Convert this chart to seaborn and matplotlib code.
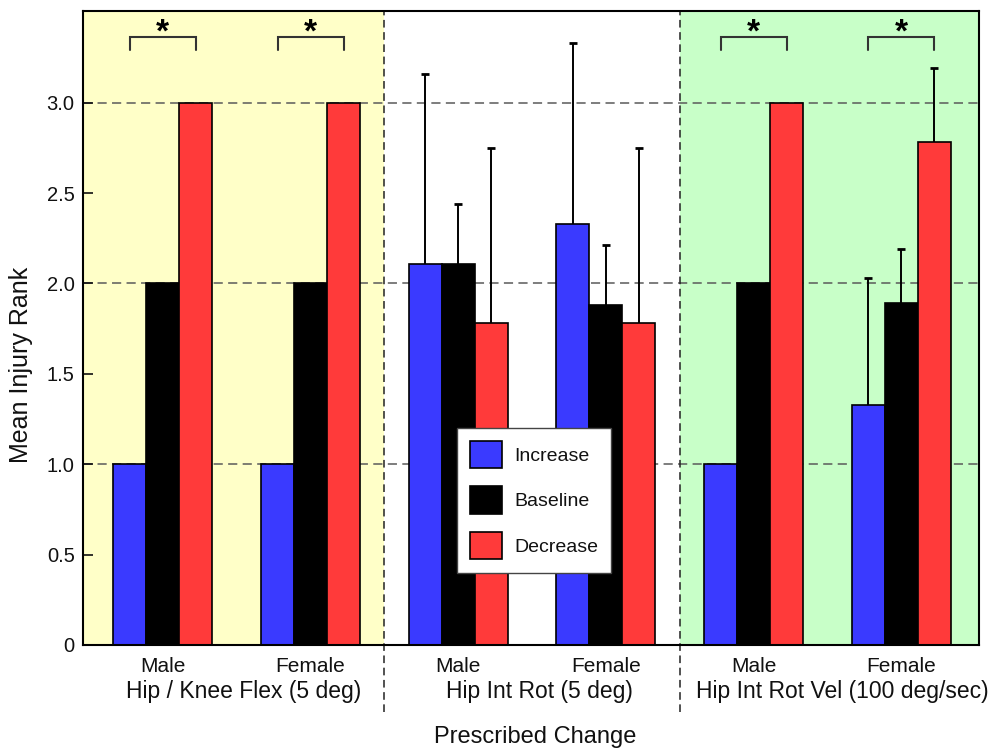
import matplotlib
matplotlib.use("Agg")
import matplotlib.pyplot as plt
import matplotlib.patches as mpatches
import matplotlib.transforms as mtransforms
import numpy as np
import pandas as pd
import seaborn as sns

# ---------------- data ----------------
regions = ["Hip / Knee Flex (5 deg)", "Hip Int Rot (5 deg)", "Hip Int Rot Vel (100 deg/sec)"]
sexes = ["Male", "Female"]
changes = ["Increase", "Baseline", "Decrease"]

increase = [1.00, 1.00, 2.11, 2.33, 1.00, 1.33]
baseline = [2.00, 2.00, 2.11, 1.88, 2.00, 1.89]
decrease = [3.00, 3.00, 1.78, 1.78, 3.00, 2.78]

increase_err = [0.00, 0.00, 1.05, 1.00, 0.00, 0.70]
baseline_err = [0.00, 0.00, 0.33, 0.33, 0.00, 0.30]
decrease_err = [0.00, 0.00, 0.97, 0.97, 0.00, 0.41]

significant = [True, True, False, False, True, True]

yticks = [0, 0.5, 1.0, 1.5, 2.0, 2.5, 3.0]
ytick_labels = ["0", "0.5", "1.0", "1.5", "2.0", "2.5", "3.0"]

colors = {"Increase": "#3a3aff", "Baseline": "#000000", "Decrease": "#ff3a3a"}
region_bg = ["#ffffc8", None, "#c8ffc8"]

# ---------------- table ----------------
groups = [f"{r}|{s}" for r in regions for s in sexes]
rows = []
for vals, errs, ch in [(increase, increase_err, "Increase"),
                       (baseline, baseline_err, "Baseline"),
                       (decrease, decrease_err, "Decrease")]:
    for g, v, e in zip(groups, vals, errs):
        rows.append({"group": g, "change": ch, "value": v, "err": e})
df = pd.DataFrame(rows)

# ---------------- figure ----------------
sns.set_style("white")
plt.rcParams["font.family"] = ["Liberation Sans", "DejaVu Sans"]
plt.rcParams["text.color"] = "#111111"
plt.rcParams["axes.labelcolor"] = "#111111"
plt.rcParams["xtick.color"] = "#111111"
plt.rcParams["ytick.color"] = "#111111"

fig = plt.figure(figsize=(9.9, 7.5), dpi=100)
ax = fig.add_axes([83 / 990, 105 / 750, 896 / 990, 634 / 750])

XMIN, XMAX = -0.54, 5.525
YMAX = 3.507
total_w = 0.67

# background shading per region
for k, bg in enumerate(region_bg):
    if bg is None:
        continue
    lo = XMIN if k == 0 else 2 * k - 0.5
    hi = XMAX if k == len(regions) - 1 else 2 * k + 1.5
    ax.axvspan(lo, hi, color=bg, zorder=0, lw=0)

# horizontal dashed grid at integer ranks
for yv in [1.0, 2.0, 3.0]:
    ax.axhline(yv, color="#5a5a5a", lw=1.1, dashes=(6, 3.5), zorder=0.5)

sns.barplot(data=df, x="group", y="value", hue="change", order=groups,
            hue_order=changes, palette=colors, saturation=1, width=total_w,
            edgecolor="black", linewidth=1.2, errorbar=None, legend=False,
            ax=ax, zorder=2)

# error bars (upper only)
bw = total_w / len(changes)
for j, ch in enumerate(changes):
    sub = df[df["change"] == ch].reset_index(drop=True)
    for i, row in sub.iterrows():
        if row["err"] > 0:
            xpos = i + (j - 1) * bw
            cont = ax.errorbar([xpos], [row["value"]], yerr=[[0], [row["err"]]],
                               fmt="none", ecolor="black", elinewidth=1.4,
                               capsize=3, capthick=2, zorder=3)
            caps = cont[1]
            if len(caps) >= 2:
                caps[0].set_visible(False)

# significance brackets
for i, sig in enumerate(significant):
    if not sig:
        continue
    x0, x1 = i - bw, i + bw
    ax.plot([x0, x0, x1, x1], [3.291, 3.363, 3.363, 3.291], color="#333333",
            lw=1.5, zorder=4, solid_joinstyle="miter")
    ax.text(i, 3.385, "*", ha="center", va="center", fontsize=24,
            fontweight="bold", color="black", zorder=4)

# vertical dividers between regions (extend below axis)
for k in range(1, len(regions)):
    xd = 2 * k - 0.5
    ax.plot([xd, xd], [-0.372, YMAX], color="#222222", lw=1.1,
            dashes=(5, 3), clip_on=False, zorder=5)

ax.set_xlim(XMIN, XMAX)
ax.set_ylim(0, YMAX)

ax.set_yticks(yticks)
ax.set_yticklabels(ytick_labels)
ax.tick_params(axis="y", direction="in", length=7, width=1.2, labelsize=14.5,
               pad=6, left=True, colors="#111111")
ax.set_xticks(range(len(groups)))
ax.set_xticklabels([g.split("|")[1] for g in groups])
ax.tick_params(axis="x", length=0, labelsize=15, pad=8.5, colors="#111111")

# region labels
trans = mtransforms.blended_transform_factory(ax.transData, ax.transAxes)
for k, r in enumerate(regions):
    xoff = [0.55, 2.55, 4.6][k]
    ax.text(xoff, -0.074, r, transform=trans, ha="center", va="center",
            fontsize=16.5)

ax.set_xlabel("Prescribed Change", fontsize=17)
ax.xaxis.set_label_coords(0.505, -0.145)
ax.xaxis.label.set_verticalalignment("center")
ax.set_ylabel("Mean Injury Rank", fontsize=18)
ax.yaxis.set_label_coords(-0.0695, 0.442)
ax.yaxis.label.set_verticalalignment("center")

for sp in ax.spines.values():
    sp.set_visible(True)
    sp.set_color("black")
    sp.set_linewidth(1.5)
    sp.set_zorder(6)

# legend
handles = [mpatches.Patch(facecolor=colors[c], edgecolor="black", lw=1.2, label=c)
           for c in changes]
leg = ax.legend(handles=handles, loc="upper left", bbox_to_anchor=(0.417, 0.343),
                borderaxespad=0, fontsize=14, handlelength=1.65, handleheight=1.8,
                labelspacing=0.93, handletextpad=0.62, borderpad=0.68,
                frameon=True, fancybox=False, framealpha=1)
leg.get_frame().set_edgecolor("#444444")
leg.get_frame().set_linewidth(1.0)
leg.set_zorder(7)

fig.savefig("out.png", dpi=100, facecolor="white")
